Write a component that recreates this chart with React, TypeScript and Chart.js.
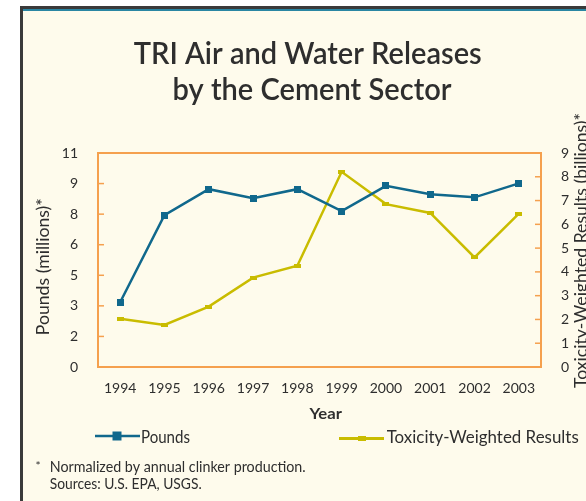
import React, { useEffect, useRef } from "react";
import { Chart, registerables } from "chart.js";

Chart.register(...registerables);

// ---- data ----
const years = ["1994", "1995", "1996", "1997", "1998", "1999", "2000", "2001", "2002", "2003"];
const pounds = [3.33, 7.8, 9.14, 8.67, 9.14, 8.01, 9.31, 8.88, 8.72, 9.44];
const toxicity = [2.03, 1.77, 2.54, 3.76, 4.26, 8.21, 6.85, 6.48, 4.61, 6.45];
const leftAxisMax = 11;
const leftTickCount = 8;
const rightAxisMax = 9;
const titleLines = ["TRI Air and Water Releases", "by the Cement Sector"];
const xTitle = "Year";
const leftTitle = "Pounds (millions)*";
const rightTitle = "Toxicity-Weighted Results (billions)*";
const seriesNames = ["Pounds", "Toxicity-Weighted Results"];
const footnotes = ["Normalized by annual clinker production.", "Sources: U.S. EPA, USGS."];

// ---- styles ----
const W = 586;
const H = 501;
const FONT = "Lato, 'Open Sans', 'DejaVu Sans', sans-serif";
const TEXT = "#2e2e2e";
const TEAL = "#10688c";
const YELLOW = "#c9bc00";
const ORANGE = "#f5a04e";
const CREAM = "#fefbec";

function makeRect(w: number, h: number, color: string) {
  const c = document.createElement("canvas");
  c.width = w;
  c.height = h;
  const g = c.getContext("2d")!;
  g.fillStyle = color;
  g.fillRect(0, 0, w, h);
  return c;
}

function drawFit(
  ctx: CanvasRenderingContext2D,
  text: string,
  x: number,
  y: number,
  font: string,
  width: number,
  align: CanvasTextAlign,
  rotate = false
) {
  ctx.save();
  ctx.font = font;
  const m = ctx.measureText(text).width;
  const sx = width / m;
  ctx.translate(x, y);
  if (rotate) ctx.rotate(-Math.PI / 2);
  ctx.scale(sx, 1);
  ctx.textAlign = align;
  ctx.textBaseline = "alphabetic";
  ctx.fillStyle = TEXT;
  ctx.fillText(text, 0, 0);
  ctx.restore();
}

const framePlugin = {
  id: "frameDecor",
  beforeDatasetsDraw(chart: any) {
    const { ctx, chartArea: a, scales } = chart;
    ctx.save();
    ctx.strokeStyle = ORANGE;
    ctx.lineWidth = 2;
    ctx.strokeRect(a.left, a.top, a.right - a.left, a.bottom - a.top);
    ctx.lineWidth = 1.5;
    for (const t of scales.y.ticks) {
      const p = scales.y.getPixelForValue(t.value);
      ctx.beginPath();
      ctx.moveTo(a.left, p);
      ctx.lineTo(a.left + 6, p);
      ctx.stroke();
    }
    for (const t of scales.y1.ticks) {
      const p = scales.y1.getPixelForValue(t.value);
      ctx.beginPath();
      ctx.moveTo(a.right - 6, p);
      ctx.lineTo(a.right, p);
      ctx.stroke();
    }
    ctx.restore();
  },
  afterDraw(chart: any) {
    const ctx: CanvasRenderingContext2D = chart.ctx;
    // title
    drawFit(ctx, titleLines[0], 307.7, 63.5, `600 30px ${FONT}`, 348, "center");
    drawFit(ctx, titleLines[1], 312, 100, `600 30px ${FONT}`, 279, "center");
    // axis titles
    drawFit(ctx, xTitle, 325.7, 419, `bold 16px ${FONT}`, 32.5, "center");
    drawFit(ctx, leftTitle, 49, 266.7, `17px ${FONT}`, 137, "center", true);
    drawFit(ctx, rightTitle, 587, 250.5, `17px ${FONT}`, 275, "center", true);
    // legend
    ctx.save();
    ctx.strokeStyle = TEAL;
    ctx.lineWidth = 2.5;
    ctx.beginPath();
    ctx.moveTo(95, 436);
    ctx.lineTo(140, 436);
    ctx.stroke();
    ctx.fillStyle = TEAL;
    ctx.fillRect(112.5, 431.5, 9, 9);
    ctx.strokeStyle = YELLOW;
    ctx.lineWidth = 3;
    ctx.beginPath();
    ctx.moveTo(339, 438.5);
    ctx.lineTo(384, 438.5);
    ctx.stroke();
    ctx.fillStyle = YELLOW;
    ctx.fillRect(358, 436, 8, 5);
    ctx.restore();
    drawFit(ctx, seriesNames[0], 141, 442.5, `17px ${FONT}`, 49, "left");
    drawFit(ctx, seriesNames[1], 386.7, 442.5, `17px ${FONT}`, 192, "left");
    // footnotes
    ctx.save();
    ctx.font = `12px ${FONT}`;
    ctx.fillStyle = TEXT;
    ctx.fillText("*", 35.5, 470);
    ctx.restore();
    drawFit(ctx, footnotes[0], 49.7, 471.5, `15px ${FONT}`, 256, "left");
    drawFit(ctx, footnotes[1], 49.7, 489, `15px ${FONT}`, 152, "left");
  },
};

export default function App() {
  const ref = useRef<HTMLCanvasElement | null>(null);

  useEffect(() => {
    const canvas = ref.current!;
    const chart = new Chart(canvas, {
      type: "line",
      data: {
        labels: years,
        datasets: [
          {
            label: seriesNames[0],
            data: pounds,
            yAxisID: "y",
            borderColor: TEAL,
            backgroundColor: TEAL,
            borderWidth: 2.5,
            pointStyle: makeRect(7, 7, TEAL) as any,
            pointRadius: 4,
            tension: 0,
          },
          {
            label: seriesNames[1],
            data: toxicity,
            yAxisID: "y1",
            borderColor: YELLOW,
            backgroundColor: YELLOW,
            borderWidth: 2.5,
            pointStyle: makeRect(7, 4, YELLOW) as any,
            pointRadius: 4,
            tension: 0,
          },
        ],
      },
      options: {
        responsive: false,
        animation: false,
        devicePixelRatio: 1,
        layout: { padding: { top: 153, left: 0, right: 0, bottom: 0 } },
        plugins: { legend: { display: false }, title: { display: false }, tooltip: { enabled: false } },
        scales: {
          x: {
            type: "category",
            offset: true,
            grid: { display: false },
            border: { display: false },
            ticks: { color: TEXT, font: { family: FONT, size: 14 }, padding: 5, maxRotation: 0, autoSkip: false },
            afterFit: (s: any) => {
              s.height = 134;
            },
          },
          y: {
            position: "left",
            min: 0,
            max: leftAxisMax,
            grid: { display: false },
            border: { display: false },
            ticks: {
              count: leftTickCount,
              color: TEXT,
              font: { family: FONT, size: 14 },
              padding: 12,
              callback: (v: any) => String(Math.round(Number(v))),
            },
            afterFit: (s: any) => {
              s.width = 98;
            },
          },
          y1: {
            position: "right",
            min: 0,
            max: rightAxisMax,
            grid: { display: false },
            border: { display: false },
            ticks: { stepSize: 1, color: TEXT, font: { family: FONT, size: 14 }, padding: 12 },
            afterFit: (s: any) => {
              s.width = 45;
            },
          },
        },
      } as any,
      plugins: [framePlugin],
    });
    return () => chart.destroy();
  }, []);

  return (
    <>
      <div
        style={{
          position: "absolute",
          left: 20,
          top: 6,
          width: W - 20,
          height: H - 6,
          boxSizing: "border-box",
          borderTop: "3px solid #3a3a3a",
          borderLeft: "3px solid #3a3a3a",
          background: CREAM,
          boxShadow: "inset 0 2px 0 #2a86a3",
        }}
      />
      <canvas
        ref={ref}
        width={W}
        height={H}
        style={{ position: "absolute", left: 0, top: 0, width: W, height: H }}
      />
    </>
  );
}
